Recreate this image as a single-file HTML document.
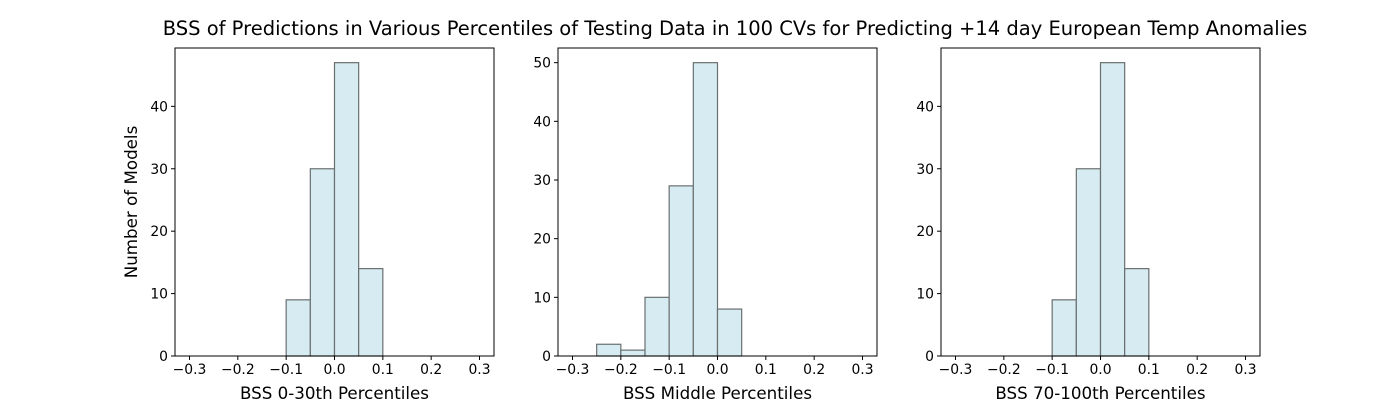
<!DOCTYPE html>
<html><head><meta charset="utf-8"><style>
body{margin:0;background:#fff;}
svg{display:block;font-family:"DejaVu Sans","Liberation Sans",sans-serif;}
</style></head><body>
<svg id="chart" width="1400" height="400">
<text x="735" y="35" text-anchor="middle" font-size="19.5">BSS of Predictions in Various Percentiles of Testing Data in 100 CVs for Predicting +14 day European Temp Anomalies</text>
<text transform="translate(137,202) rotate(-90)" text-anchor="middle" font-size="16.7">Number of Models</text>
</svg>
<script>
const binStarts1 = [-0.1, -0.05, 0.0, 0.05];
const counts1 = [9, 30, 47, 14];
const binStarts2 = [-0.25, -0.2, -0.15, -0.1, -0.05, 0.0];
const counts2 = [2, 1, 10, 29, 50, 8];
const binStarts3 = [-0.1, -0.05, 0.0, 0.05];
const counts3 = [9, 30, 47, 14];
const xTicks = [-0.3, -0.2, -0.1, 0.0, 0.1, 0.2, 0.3];
const yTicks1 = [0, 10, 20, 30, 40];
const yTicks2 = [0, 10, 20, 30, 40, 50];
const yTicks3 = [0, 10, 20, 30, 40];
const xLabels = ["BSS 0-30th Percentiles", "BSS Middle Percentiles", "BSS 70-100th Percentiles"];
const binWidth = 0.05;

const svg = document.getElementById('chart');
const NS = 'http://www.w3.org/2000/svg';
function mk(tag, attrs){const e=document.createElementNS(NS,tag);for(const k in attrs)e.setAttribute(k,attrs[k]);svg.appendChild(e);return e;}

function panel(idx, left, starts, counts, yTicks){
  const right = left + 319, top = 48, bottom = 356;
  const xmin = -0.33, xmax = 0.33;
  const ymax = Math.max(...counts) * 1.05;
  const xs = v => left + (v - xmin) / (xmax - xmin) * (right - left);
  const ys = v => bottom - v / ymax * (bottom - top);
  starts.forEach((s, i) => {
    const r = mk('rect', {x: xs(s), y: ys(counts[i]), width: xs(s + binWidth) - xs(s), height: bottom - ys(counts[i]), fill: '#d6ebf2', stroke: '#6a6f70', 'stroke-width': 1.2});
    
    
  });
  const frame = mk('rect', {x: left, y: top, width: right - left, height: bottom - top, fill: 'none', stroke: '#000', 'stroke-width': 1});
  
  
  xTicks.forEach(t => {
    const x = xs(t);
    mk('line', {x1: x, x2: x, y1: bottom, y2: bottom + 4, stroke: '#000'});
    const tx = mk('text', {x: x, y: bottom + 18, 'text-anchor': 'middle', 'font-size': 13.9});
    tx.textContent = (t < 0 ? '\u22120.' + Math.round(Math.abs(t) * 10) : t.toFixed(1));
    
    
  });
  yTicks.forEach(t => {
    const y = ys(t);
    mk('line', {x1: left - 4, x2: left, y1: y, y2: y, stroke: '#000'});
    const tx = mk('text', {x: left - 7, y: y + 5, 'text-anchor': 'end', 'font-size': 13.9});
    tx.textContent = t;
    
    
  });
  const xl = mk('text', {x: (left + right) / 2, y: 399, 'text-anchor': 'middle', 'font-size': 16.7});
  xl.textContent = xLabels[idx - 1];
  
  
}
panel(1, 175, binStarts1, counts1, yTicks1);
panel(2, 558, binStarts2, counts2, yTicks2);
panel(3, 941, binStarts3, counts3, yTicks3);
</script>
</body></html>
